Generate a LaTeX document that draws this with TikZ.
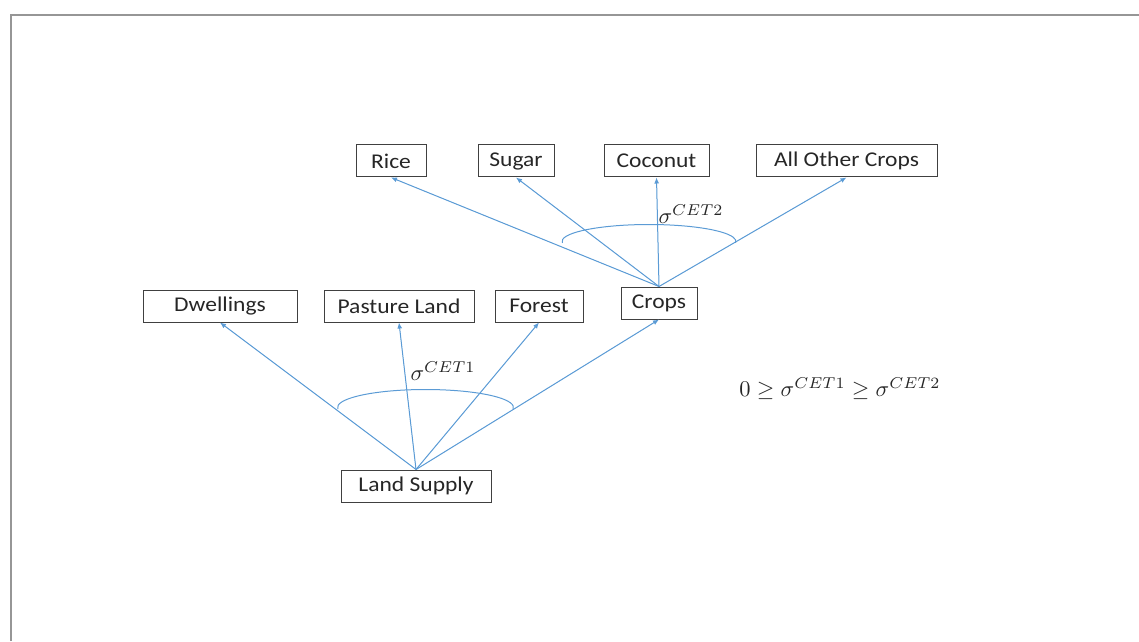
\documentclass[tikz,border=0pt]{standalone}
\usepackage[no-math]{fontspec}
\setmainfont{Carlito}[FakeStretch=1.12]
\usepackage{amsmath,amssymb}
\usetikzlibrary{positioning,calc,arrows.meta}
\definecolor{linkblue}{RGB}{91,155,213}
\definecolor{framegray}{RGB}{150,150,150}

\begin{document}
\begin{tikzpicture}[
  x=1pt, y=1pt,
  font=\fontsize{21}{25}\selectfont,
  box/.style={draw=black!75, line width=1pt, minimum height=32pt, inner sep=2pt, align=center, text=black!85},
  arrow/.style={-{Latex[length=6pt,width=5pt]}, draw=linkblue, fill=linkblue, line width=1pt},
  cetarc/.style={draw=linkblue, line width=1pt},
  sig/.style={font=\normalsize, scale=2.25, text=black!85}
]

% Page frame
\useasboundingbox (0,0) rectangle (1139,641);
\draw[framegray, line width=2pt] (10.5,0) |- (1139,625.5);

% Land Supply and first nest
\node[box, minimum width=150pt] (land) at (416,155) {Land Supply};

\node[box, minimum width=154pt] (dwell) at (220,335) {Dwellings};
\node[box, minimum width=150pt, right=26pt of dwell] (pasture) {Pasture Land};
\node[box, minimum width=88pt, right=20pt of pasture] (forest) {Forest};
\node[box, minimum width=76pt, right=37pt of forest, yshift=3pt] (crops) {Crops};

% Second nest under Crops
\node[box, minimum width=70pt] (rice) at (391,480) {Rice};
\node[box, minimum width=76pt, right=51pt of rice] (sugar) {Sugar};
\node[box, minimum width=105pt, right=49pt of sugar] (coconut) {Coconut};
\node[box, minimum width=181pt, right=46pt of coconut] (others) {All Other Crops};

% Arrows
\draw[arrow] (land.north) -- (dwell.south);
\draw[arrow] (land.north) -- (pasture.south);
\draw[arrow] (land.north) -- (forest.south);
\draw[arrow] (land.north) -- (crops.south);

\draw[arrow] (crops.north) -- (rice.south);
\draw[arrow] (crops.north) -- (sugar.south);
\draw[arrow] (crops.north) -- (coconut.south);
\draw[arrow] (crops.north) -- (others.south);

% Elasticity arcs
\draw[cetarc] ($(land.north)+(9.5,62)$) ++(185:88 and 18)
  arc[start angle=185, end angle=-5, x radius=88, y radius=18];
\draw[cetarc] ($(crops.north)+(-10,45)$) ++(185:87 and 17)
  arc[start angle=185, end angle=-5, x radius=87, y radius=17];

% Labels
\node[sig] (cet1) at (443,270) {$\sigma^{CET1}$};
\node[sig] (cet2) at (691,427) {$\sigma^{CET2}$};
\node[sig] (order) at (840,252) {$0 \geq \sigma^{CET1} \geq \sigma^{CET2}$};

\end{tikzpicture}
\end{document}
